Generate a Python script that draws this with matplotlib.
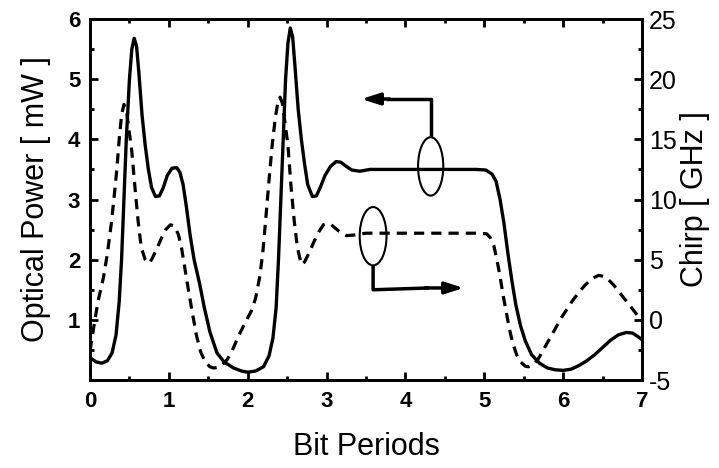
import matplotlib
matplotlib.use("Agg")
import matplotlib.pyplot as plt
from matplotlib.patches import Ellipse
from matplotlib.ticker import MultipleLocator

plt.rcParams['font.family'] = ['Liberation Sans', 'DejaVu Sans']
plt.rcParams['axes.unicode_minus'] = False

# Optical power (left axis, mW)
power_x = [0.00, 0.08, 0.15, 0.22, 0.28, 0.33, 0.37, 0.40, 0.43, 0.46, 0.50, 0.53, 0.56, 0.59,
           0.62, 0.66, 0.70, 0.74, 0.78, 0.83, 0.88, 0.93, 0.98, 1.04, 1.10, 1.14, 1.18, 1.22,
           1.27, 1.32, 1.39, 1.45, 1.52, 1.61, 1.70, 1.82, 1.92, 2.00, 2.10, 2.20, 2.27, 2.32,
           2.36, 2.39, 2.42, 2.45, 2.48, 2.51, 2.54, 2.57, 2.60, 2.64, 2.68, 2.72, 2.76, 2.82,
           2.87, 2.92, 2.98, 3.05, 3.12, 3.18, 3.25, 3.32, 3.42, 3.55, 3.80, 4.20, 4.60, 4.90,
           5.02, 5.10, 5.15, 5.20, 5.25, 5.30, 5.35, 5.40, 5.46, 5.52, 5.60, 5.70, 5.80, 5.90,
           6.00, 6.10, 6.20, 6.30, 6.40, 6.50, 6.60, 6.70, 6.80, 6.88, 6.95, 7.00]
power_y = [0.37, 0.30, 0.28, 0.32, 0.45, 0.75, 1.3, 2.0, 3.0, 4.0, 5.0, 5.5, 5.68, 5.55,
           5.1, 4.4, 3.9, 3.5, 3.2, 3.05, 3.06, 3.2, 3.4, 3.52, 3.53, 3.45, 3.25, 2.9,
           2.4, 2.0, 1.6, 1.2, 0.8, 0.45, 0.3, 0.2, 0.15, 0.13, 0.15, 0.22, 0.4, 0.7,
           1.2, 2.0, 3.0, 4.0, 5.0, 5.6, 5.85, 5.7, 5.2, 4.5, 4.0, 3.6, 3.25, 3.05,
           3.06, 3.2, 3.4, 3.55, 3.63, 3.62, 3.55, 3.49, 3.47, 3.5, 3.5, 3.5, 3.5, 3.5,
           3.49, 3.42, 3.3, 3.0, 2.6, 2.1, 1.65, 1.25, 0.9, 0.65, 0.42, 0.28, 0.2, 0.17,
           0.16, 0.18, 0.24, 0.32, 0.42, 0.54, 0.66, 0.75, 0.79, 0.78, 0.72, 0.67]

# Chirp (right axis, GHz)
chirp_x = [0.00, 0.05, 0.10, 0.17, 0.22, 0.27, 0.31, 0.34, 0.37, 0.40, 0.43, 0.46, 0.49, 0.53,
           0.57, 0.61, 0.65, 0.70, 0.74, 0.78, 0.84, 0.90, 0.96, 1.02, 1.07, 1.12, 1.16, 1.20,
           1.25, 1.30, 1.35, 1.40, 1.46, 1.52, 1.57, 1.62, 1.68, 1.74, 1.80, 1.86, 1.92, 1.98,
           2.05, 2.10, 2.15, 2.19, 2.23, 2.27, 2.31, 2.35, 2.38, 2.41, 2.44, 2.47, 2.51, 2.55,
           2.59, 2.63, 2.68, 2.72, 2.78, 2.84, 2.90, 2.96, 3.00, 3.06, 3.15, 3.25, 3.35, 3.50,
           3.80, 4.20, 4.60, 4.90, 5.03, 5.08, 5.12, 5.16, 5.20, 5.24, 5.28, 5.32, 5.36, 5.41,
           5.46, 5.52, 5.56, 5.62, 5.68, 5.74, 5.80, 5.86, 5.92, 5.98, 6.05, 6.12, 6.20, 6.28,
           6.36, 6.45, 6.52, 6.58, 6.64, 6.70, 6.76, 6.82, 6.88, 6.94, 7.00]
chirp_y = [-2.6, -0.5, 1.5, 3.5, 5.5, 8.0, 10.5, 12.5, 15.0, 17.0, 17.9, 17.5, 16.0, 14.0,
           11.0, 8.2, 6.0, 5.0, 4.7, 5.0, 5.8, 6.7, 7.5, 7.9, 7.8, 7.1, 6.0, 4.4,
           2.4, 0.5, -1.3, -2.6, -3.5, -3.9, -4.0, -3.95, -3.7, -3.3, -2.6, -1.7, -0.85, -0.1,
           0.8, 1.8, 3.5, 5.5, 8.5, 11.6, 14.5, 16.8, 18.0, 18.5, 18.0, 16.5, 14.5, 11.0,
           8.2, 6.0, 4.6, 4.8, 5.6, 6.5, 7.3, 7.9, 8.0, 7.9, 7.4, 7.0, 7.05, 7.2,
           7.2, 7.2, 7.2, 7.2, 7.15, 6.8, 6.2, 5.0, 3.6, 2.0, 0.6, -0.8, -1.9, -2.9,
           -3.5, -3.85, -3.9, -3.7, -3.3, -2.6, -1.9, -1.2, -0.5, 0.2, 0.9, 1.6, 2.3, 2.9,
           3.4, 3.7, 3.6, 3.3, 2.9, 2.4, 1.9, 1.4, 0.9, 0.4, 0.0]

fig = plt.figure(figsize=(7.19, 4.68), dpi=100)
ax = fig.add_axes([0.1252, 0.188, 0.7677, 0.7714])
ax2 = ax.twinx()

ax.plot(power_x, power_y, color='black', lw=2.4, solid_joinstyle='round')
ax2.plot(chirp_x, chirp_y, color='black', lw=2.3, dashes=(3.2, 2.2))

ax.set_xlim(0, 7)
ax.set_ylim(0, 6)
ax2.set_ylim(-5, 25)

ax.xaxis.set_major_locator(MultipleLocator(1))
ax.xaxis.set_minor_locator(MultipleLocator(0.5))
ax.yaxis.set_minor_locator(MultipleLocator(0.5))
ax.set_yticks([1, 2, 3, 4, 5, 6])
ax2.yaxis.set_major_locator(MultipleLocator(5))
ax2.yaxis.set_minor_locator(MultipleLocator(2.5))

for a in (ax, ax2):
    for s in a.spines.values():
        s.set_linewidth(2.0)

ax.tick_params(axis='x', which='both', direction='in', top=True, width=2, pad=8)
ax.tick_params(axis='x', which='major', length=6)
ax.tick_params(axis='x', which='minor', length=3)
ax.tick_params(axis='y', which='both', direction='in', right=False, width=2, pad=7)
ax.tick_params(axis='y', which='major', length=6)
ax.tick_params(axis='y', which='minor', length=3)
ax2.tick_params(axis='y', which='both', direction='in', width=2, pad=5)
ax2.tick_params(axis='y', which='major', length=6)
ax2.tick_params(axis='y', which='minor', length=3)

for lab in ax.get_xticklabels() + ax.get_yticklabels():
    lab.set_fontsize(16)
    lab.set_fontweight('bold')
for lab in ax2.get_yticklabels():
    lab.set_fontsize(18)

ax.set_xlabel('Bit Periods', fontsize=22, labelpad=14)
ax.set_ylabel('Optical Power [ mW ]', fontsize=22, labelpad=12)
ax2.set_ylabel('Chirp [ GHz ]', fontsize=22, labelpad=2)

# Annotation: ellipse on solid curve, arrow pointing left (to left axis)
ax.add_patch(Ellipse((4.32, 3.55), 0.32, 0.97, fill=False, lw=1.5, color='black', zorder=5))
ax.plot([4.32, 4.32, 3.75], [4.04, 4.67, 4.67], color='black', lw=2.5, solid_capstyle='butt')
ax.annotate('', xy=(3.44, 4.67), xytext=(3.8, 4.67),
            arrowprops=dict(arrowstyle='-|>,head_length=1.1,head_width=0.35', color='black', lw=2.5,
                            shrinkA=0, shrinkB=0))

# Annotation: ellipse on dashed curve, arrow pointing right (to right axis)
ax.add_patch(Ellipse((3.59, 2.39), 0.34, 0.97, fill=False, lw=1.5, color='black', zorder=5))
ax.plot([3.59, 3.59, 4.3], [1.905, 1.5, 1.53], color='black', lw=2.5, solid_capstyle='butt')
ax.annotate('', xy=(4.74, 1.53), xytext=(4.25, 1.53),
            arrowprops=dict(arrowstyle='-|>,head_length=1.1,head_width=0.35', color='black', lw=2.5,
                            shrinkA=0, shrinkB=0))

fig.savefig('out.png', dpi=100)
